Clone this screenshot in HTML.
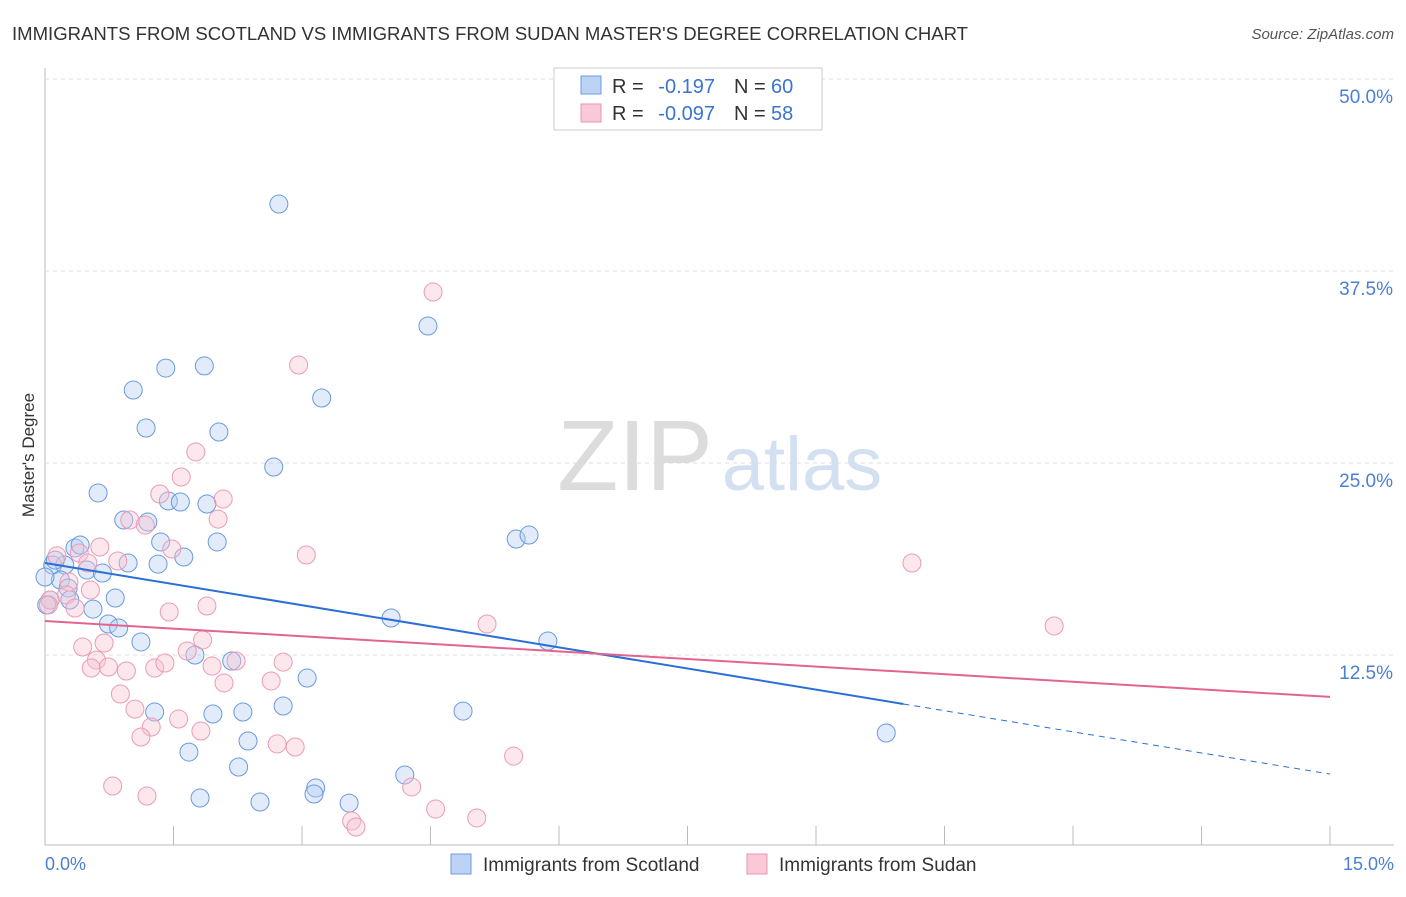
<!DOCTYPE html>
<html><head><meta charset="utf-8"><style>
body{margin:0;background:#fff;font-family:"Liberation Sans",sans-serif}
svg text{font-family:"Liberation Sans",sans-serif}
</style></head><body>
<svg id="chart" width="1406" height="892">
<text x="12" y="40" font-size="18" fill="#333" textLength="956" lengthAdjust="spacingAndGlyphs">IMMIGRANTS FROM SCOTLAND VS IMMIGRANTS FROM SUDAN MASTER'S DEGREE CORRELATION CHART</text>
<text x="1394" y="39" font-size="15" fill="#555" font-style="italic" text-anchor="end">Source: ZipAtlas.com</text>
<g><text x="635" y="490" font-size="100" fill="#dcdcdc" font-family="Liberation Serif" text-anchor="middle">ZIP</text><text x="802" y="490" font-size="76" fill="#d3e0f2" text-anchor="middle">atlas</text></g>
<g id="grid"></g><g id="pts"></g><g id="lines"></g>
<text x="34" y="455" font-size="17" fill="#333" transform="rotate(-90 34 455)" text-anchor="middle">Master's Degree</text>
<text x="45" y="870" font-size="18" fill="#4a7fd4">0.0%</text>
<text x="1394" y="870" font-size="18" fill="#4a7fd4" text-anchor="end">15.0%</text>
<g>
<rect x="554" y="68" width="268" height="62" fill="#fff" stroke="#ccc"/>
<rect x="581" y="76" width="20" height="18" fill="#bcd3f5" stroke="#6d9be0"/>
<rect x="581" y="104" width="20" height="18" fill="#f9c9d7" stroke="#e795b0"/>
<text x="612" y="93" font-size="20" fill="#333">R =</text><text x="715" y="93" font-size="20" fill="#3a74d0" text-anchor="end">-0.197</text>
<text x="734" y="93" font-size="20" fill="#333">N =</text><text x="771" y="93" font-size="20" fill="#3a74d0">60</text>
<text x="612" y="120" font-size="20" fill="#333">R =</text><text x="715" y="120" font-size="20" fill="#3a74d0" text-anchor="end">-0.097</text>
<text x="734" y="120" font-size="20" fill="#333">N =</text><text x="771" y="120" font-size="20" fill="#3a74d0">58</text>
</g>
<g>
<rect x="451" y="854" width="20" height="20" fill="#bcd3f5" stroke="#6d9be0"/>
<text x="483" y="871" font-size="19" fill="#333">Immigrants from Scotland</text>
<rect x="747" y="854" width="20" height="20" fill="#f9c9d7" stroke="#e795b0"/>
<text x="779" y="871" font-size="19" fill="#333">Immigrants from Sudan</text>
</g>
</svg>
<script>
const yTicks=[12.5,25,37.5,50];
const yTickLabels=["12.5%","25.0%","37.5%","50.0%"];
const xTicks=[0,1.5,3,4.5,6,7.5,9,10.5,12,13.5,15];
const scotX=[2.73,4.47,1.41,1.86,1.03,3.23,1.18,2.03,2.67,.62,1.44,1.58,1.89,.92,1.20,5.50,5.65,1.35,2.01,.35,.41,1.62,1.32,.97,.09,.23,.49,.67,.18,.27,.82,.56,4.04,.74,.86,1.12,5.87,1.75,2.18,3.06,2.78,1.28,1.96,2.31,4.88,9.82,2.37,1.68,2.26,4.20,3.16,3.14,1.81,2.51,3.55,.06,0,.02,.29,.12];
const scotY=[41.86,33.92,31.18,31.32,29.75,29.23,27.28,27.02,24.74,23.05,22.53,22.46,22.33,21.29,21.16,20.05,20.31,19.86,19.86,19.47,19.66,18.88,18.42,18.49,18.36,18.36,18.03,17.84,17.38,16.86,16.21,15.49,14.91,14.52,14.26,13.35,13.41,12.5,12.11,11.0,9.18,8.79,8.66,8.79,8.85,7.42,6.90,6.18,5.21,4.69,3.84,3.45,3.19,2.93,2.86,16.08,17.58,15.76,16.08,18.68];
const sudX=[4.53,2.96,1.76,1.59,1.34,2.08,.99,2.02,1.17,1.48,3.05,.14,.64,.40,.50,.85,10.12,.28,.53,.25,1.89,1.45,.35,5.16,11.78,1.84,.69,.44,1.66,.60,2.23,2.78,.54,.74,.95,1.28,1.95,1.40,2.64,2.09,.88,1.05,1.56,1.24,1.82,1.12,2.71,2.92,5.47,.79,4.28,1.19,4.56,5.04,3.58,3.63,.06,.04];
const sudY=[36.13,31.38,25.72,24.09,22.98,22.66,21.29,21.35,20.96,19.40,19.01,18.95,19.53,19.14,18.49,18.62,18.49,17.25,16.73,16.41,15.69,15.30,15.56,14.52,14.39,13.48,13.28,13.02,12.76,12.17,12.11,12.04,11.65,11.72,11.46,11.65,11.78,11.98,10.81,10.68,9.96,8.98,8.33,7.81,7.55,7.16,6.71,6.51,5.92,3.97,3.91,3.32,2.47,1.89,1.69,1.30,16.08,15.76];
const scotTrend=[18.49,4.75,10.02];
const sudTrend=[14.71,9.77];
const NS='http://www.w3.org/2000/svg';
const X=v=>45+v/15*1285, Y=v=>847-v/12.5*192;
function mk(t,a,p){const e=document.createElementNS(NS,t);for(const k in a)e.setAttribute(k,a[k]);p.appendChild(e);return e;}
const g=document.getElementById('grid');
const ax=mk('line',{x1:45,y1:68,x2:45,y2:845,stroke:'#bbb'},g);


const bx=mk('line',{x1:45,y1:845,x2:1394,y2:845,stroke:'#bbb'},g);


yTicks.forEach((t,i)=>{const l=mk('line',{x1:45,x2:1394,y1:Y(t),y2:Y(t),stroke:'#ddd','stroke-dasharray':'4,4'},g);


const tx=mk('text',{x:1393,y:Y(t)+24,'font-size':19,fill:'#4a7fd4','text-anchor':'end'},g);tx.textContent=yTickLabels[i];

});
xTicks.forEach(t=>{const l=mk('line',{x1:X(t),x2:X(t),y1:826,y2:845,stroke:'#bbb'},g);

});
const p=document.getElementById('pts');
function pts(xs,ys,f,s,n){xs.forEach((x,i)=>{const c=mk('circle',{cx:X(x),cy:Y(ys[i]),r:9,fill:f,'fill-opacity':0.4,stroke:s,'stroke-width':1},p);

});}
pts(scotX,scotY,'#b5cdf2','#6a9ae0','scotland-point');
pts(sudX,sudY,'#f8c2d2','#ea9bb5','sudan-point');
const L=document.getElementById('lines');
const b1=mk('line',{x1:X(0),y1:Y(scotTrend[0]),x2:X(scotTrend[2]),y2:Y(scotTrend[0]+(scotTrend[1]-scotTrend[0])*scotTrend[2]/15),stroke:'#2b6fd6','stroke-width':2},L);


const b2=mk('line',{x1:X(scotTrend[2]),y1:Y(scotTrend[0]+(scotTrend[1]-scotTrend[0])*scotTrend[2]/15),x2:X(15),y2:Y(scotTrend[1]),stroke:'#2b6fd6','stroke-width':1,'stroke-dasharray':'6,5'},L);


const s1=mk('line',{x1:X(0),y1:Y(sudTrend[0]),x2:X(15),y2:Y(sudTrend[1]),stroke:'#e2648f','stroke-width':2},L);


</script>
</body></html>
